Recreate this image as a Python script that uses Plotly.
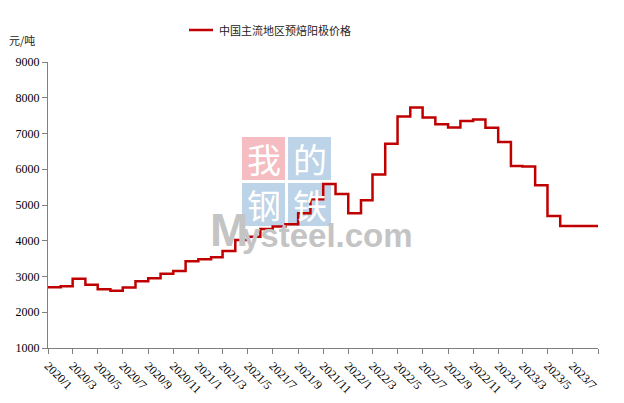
import pandas as pd
import plotly.graph_objects as go

# Monthly price data (元/吨), 2020/1 .. 2023/8
start_month = "2020-01-01"
prices = [
    2700, 2730, 2940, 2770, 2640, 2600, 2690, 2865, 2950, 3080, 3155, 3430,
    3480, 3535, 3710, 4020, 4115, 4330, 4400, 4460, 4770, 5160, 5590, 5310,
    4770, 5130, 5850, 6710, 7475, 7730, 7450, 7260, 7170, 7350, 7390, 7160,
    6760, 6090, 6080, 5550, 4690, 4410, 4410, 4410,
]
series_name = "中国主流地区预焙阳极价格"
y_unit = "元/吨"
y_ticks = [1000, 2000, 3000, 4000, 5000, 6000, 7000, 8000, 9000]

months = pd.date_range(start_month, periods=len(prices) + 1, freq="MS")
step_y = prices + [prices[-1]]

# page body has an 8px margin; work in screen pixels
OFF = 8
W, H = 616, 395
PL, PR, PT, PB = 48, 598, 62, 348          # plot area in screen pixels
L, T = PL - OFF, PT - OFF
R, B = W - (PR - OFF), H - (PB - OFF)
pw, ph = PR - PL, PB - PT
LINE_COLOR = "#c00000"


def px(x):
    return (x - PL) / pw


def py(y):
    return (PB - y) / ph


fig = go.Figure()
fig.add_trace(go.Scatter(
    x=months, y=step_y, mode="lines", line_shape="hv",
    line=dict(color=LINE_COLOR, width=2.5), name=series_name, showlegend=False,
))

shapes = []
annotations = []

# watermark (logo)
boxes = [
    ("我", 242, 137, "#f5bcc1"),
    ("的", 288, 137, "#bcd3e8"),
    ("钢", 242, 183, "#bcd3e8"),
    ("铁", 288, 183, "#bcd3e8"),
]
for ch, x0, y0, col in boxes:
    shapes.append(dict(type="rect", xref="paper", yref="paper",
                       x0=px(x0), x1=px(x0 + 43), y0=py(y0), y1=py(y0 + 43),
                       fillcolor=col, line_width=0, layer="below"))
    annotations.append(dict(text=ch, xref="paper", yref="paper",
                            x=px(x0 + 21.5), y=py(y0 + 21.5), showarrow=False,
                            font=dict(size=34, color="white", family="Noto Sans CJK SC"),
                            xanchor="center", yanchor="middle"))
annotations.append(dict(text="<b>M</b>", xref="paper", yref="paper", x=px(208), y=py(248),
                        showarrow=False, xanchor="left", yanchor="bottom",
                        font=dict(size=46, color="#c4c4c4", family="Liberation Sans"),
                        yshift=-10))
annotations.append(dict(text="<b>ysteel.com</b>", xref="paper", yref="paper", x=px(240), y=py(248),
                        showarrow=False, xanchor="left", yanchor="bottom",
                        font=dict(size=33, color="#c4c4c4", family="Liberation Sans"),
                        yshift=-8))

# unit label
annotations.append(dict(text=y_unit, xref="paper", yref="paper", x=px(7), y=py(40),
                        showarrow=False, xanchor="left", yanchor="middle",
                        font=dict(size=11, color="#222", family="Noto Sans CJK SC")))

# legend (drawn manually so it does not push the plot area)
shapes.append(dict(type="line", xref="paper", yref="paper",
                   x0=px(189), x1=px(213), y0=py(30), y1=py(30),
                   line=dict(color=LINE_COLOR, width=2.5)))
annotations.append(dict(text=series_name, xref="paper", yref="paper", x=px(217), y=py(30),
                        showarrow=False, xanchor="left", yanchor="middle",
                        font=dict(size=11, color="#222", family="Noto Sans CJK SC")))

fig.update_layout(
    width=W, height=H, margin=dict(l=L, r=R, t=T, b=B, autoexpand=False),
    paper_bgcolor="white", plot_bgcolor="white",
    showlegend=False,
    shapes=shapes, annotations=annotations,
    xaxis=dict(
        type="date", range=[months[0], months[-1]], automargin=False,
        tick0=start_month, dtick="M2", tickformat="%Y/%-m", tickangle=45,
        showgrid=False, zeroline=False, showline=True, linecolor="#808080", linewidth=1,
        ticks="outside", ticklen=5, tickcolor="#808080",
        tickfont=dict(family="Liberation Serif", size=12, color="#000"),
    ),
    yaxis=dict(
        range=[1000, 9000], tickvals=y_ticks, automargin=False,
        showgrid=False, zeroline=False, showline=True, linecolor="#808080", linewidth=1,
        ticks="outside", ticklen=5, tickcolor="#808080",
        tickfont=dict(family="Liberation Serif", size=12, color="#000"),
    ),
    font=dict(family="Liberation Serif"),
)

fig.write_html("out.html")
